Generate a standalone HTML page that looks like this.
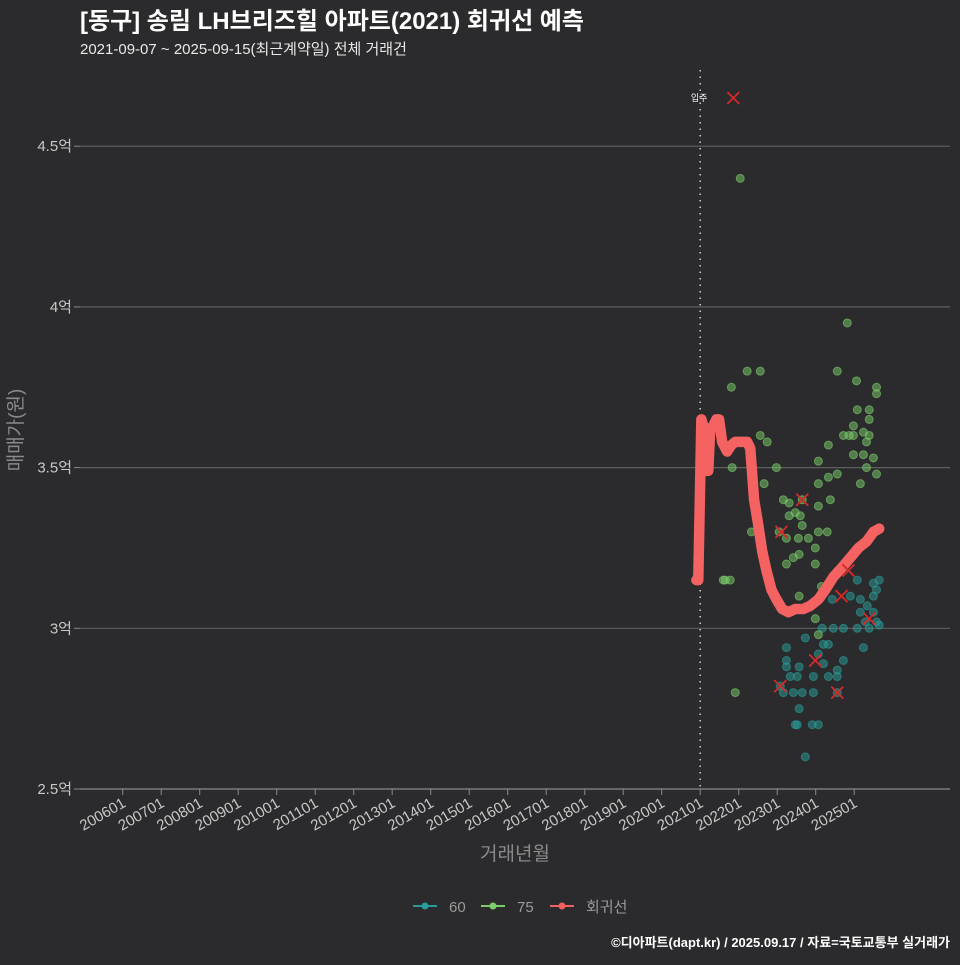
<!DOCTYPE html>
<html><head><meta charset="utf-8">
<style>
body{margin:0;background:#2b2b2d;}
svg text{font-family:"Liberation Sans","Noto Sans CJK KR",sans-serif;}
</style></head>
<body>
<svg id="chart" width="960" height="960" xmlns="http://www.w3.org/2000/svg">
<rect width="960" height="960" fill="#2b2b2d"/>
<text x="80" y="29" fill="#ffffff" font-size="24" font-weight="bold">[동구] 송림 LH브리즈힐 아파트(2021) 회귀선 예측</text>
<text x="80" y="54" fill="#e8e8e8" font-size="15">2021-09-07 ~ 2025-09-15(최근계약일) 전체 거래건</text>
<g id="grid"></g>
<g id="axes"></g>
<g id="marks"></g>
<text transform="translate(22,430) rotate(-90)" text-anchor="middle" fill="#8a8a8a" font-size="19">매매가(원)</text>
<text x="515" y="860" text-anchor="middle" fill="#8a8a8a" font-size="19">거래년월</text>
<g>
<g><line x1="413" y1="906" x2="437" y2="906" stroke="#2a9d9a" stroke-width="2"/><circle cx="425" cy="906" r="3.5" fill="#2a9d9a"/><text x="449" y="912" fill="#9a9a9a" font-size="15">60</text></g>
<g><line x1="481" y1="906" x2="505" y2="906" stroke="#7ccd6a" stroke-width="2"/><circle cx="493" cy="906" r="3.5" fill="#7ccd6a"/><text x="517" y="912" fill="#9a9a9a" font-size="15">75</text></g>
<g><line x1="550" y1="906" x2="574" y2="906" stroke="#f06060" stroke-width="2"/><circle cx="562" cy="906" r="3.5" fill="#f06060"/><text x="586" y="912" fill="#9a9a9a" font-size="15">회귀선</text></g>
</g>
<text x="950" y="947" text-anchor="end" fill="#ffffff" font-size="13" font-weight="bold">©디아파트(dapt.kr) / 2025.09.17 / 자료=국토교통부 실거래가</text>
</svg>
<script>
const yTicks=[2.5,3,3.5,4,4.5];
const yTickLabels=['2.5억','3억','3.5억','4억','4.5억'];
const xTickYears=[2006,2007,2008,2009,2010,2011,2012,2013,2014,2015,2016,2017,2018,2019,2020,2021,2022,2023,2024,2025];
const moveInYear=2021.0;
const g75Dates=[2022.04,2021.81,2021.78,2021.60,2021.91,2022.22,2022.56,2022.56,2022.74,2021.83,2022.98,2022.66,2023.16,2023.31,2023.65,2023.47,2023.31,2023.60,2024.07,2024.38,2022.33,2023.05,2023.24,2023.55,2023.81,2024.07,2024.30,2023.65,2023.99,2023.42,2023.57,2023.24,2023.99,2021.65,2023.57,2024.15,2023.99,2024.07,2024.33,2024.07,2024.33,2024.56,2024.07,2024.98,2025.08,2024.98,2024.72,2025.24,2025.39,2025.39,2025.32,2024.98,2025.24,2025.50,2025.32,2025.58,2025.16,2025.39,2024.82,2024.56,2025.06,2025.58,2025.58,2024.87];
const g75Prices=[4.40,3.75,3.15,3.15,2.80,3.80,3.80,3.60,3.58,3.50,3.50,3.45,3.40,3.39,3.40,3.36,3.35,3.35,3.38,3.40,3.30,3.30,3.28,3.28,3.28,3.30,3.30,3.32,3.25,3.22,3.23,3.20,3.20,3.15,3.10,3.13,3.03,2.98,3.57,3.52,3.47,3.48,3.45,3.60,3.68,3.63,3.60,3.61,3.68,3.65,3.58,3.54,3.54,3.53,3.50,3.48,3.45,3.60,3.95,3.80,3.77,3.75,3.73,3.60];
const g60Dates=[2025.08,2025.50,2025.65,2025.58,2025.50,2025.16,2024.90,2024.43,2025.34,2025.16,2025.50,2025.58,2025.29,2025.65,2024.17,2024.46,2024.72,2025.08,2025.39,2023.73,2024.20,2024.33,2025.24,2023.24,2024.07,2023.24,2023.57,2024.20,2024.72,2023.24,2023.34,2023.52,2023.94,2024.33,2024.56,2024.56,2023.16,2023.42,2023.65,2023.94,2024.56,2023.57,2023.52,2023.91,2024.07,2023.73,2023.08,2023.47];
const g60Prices=[3.15,3.14,3.15,3.12,3.10,3.09,3.10,3.09,3.07,3.05,3.05,3.02,3.02,3.01,3.00,3.00,3.00,3.00,3.00,2.97,2.95,2.95,2.94,2.94,2.92,2.90,2.88,2.89,2.90,2.88,2.85,2.85,2.85,2.85,2.87,2.85,2.80,2.80,2.80,2.80,2.80,2.75,2.70,2.70,2.70,2.60,2.82,2.70];
const outlierDates=[2021.86,2023.11,2023.65,2024.85,2024.67,2025.39,2023.99,2023.08,2024.56];
const outlierPrices=[4.65,3.30,3.40,3.18,3.10,3.03,2.90,2.82,2.80];
const regDates=[2020.90,2020.95,2021.03,2021.08,2021.16,2021.21,2021.26,2021.34,2021.42,2021.49,2021.57,2021.70,2021.81,2021.91,2022.07,2022.22,2022.30,2022.40,2022.51,2022.61,2022.72,2022.85,2022.98,2023.13,2023.29,2023.47,2023.68,2023.86,2024.07,2024.25,2024.46,2024.69,2024.90,2025.11,2025.32,2025.50,2025.65];
const regPrices=[3.15,3.15,3.65,3.63,3.49,3.49,3.62,3.63,3.65,3.65,3.58,3.55,3.57,3.58,3.58,3.58,3.56,3.40,3.32,3.24,3.18,3.12,3.09,3.06,3.05,3.06,3.06,3.07,3.09,3.12,3.16,3.19,3.22,3.25,3.27,3.30,3.31];

const NS='http://www.w3.org/2000/svg';
const X=t=>122.7+(t-2006)*38.5;
const Y=v=>789-(v-2.5)*321.4;
function mk(tag,attrs,parent){const e=document.createElementNS(NS,tag);for(const k in attrs)e.setAttribute(k,attrs[k]);parent.appendChild(e);return e;}
const grid=document.getElementById('grid'),axes=document.getElementById('axes'),marks=document.getElementById('marks');
yTicks.forEach((v,i)=>{
  if(i>0){const l=mk('line',{x1:80,x2:950,y1:Y(v),y2:Y(v),stroke:'#5f5f5f','stroke-width':1.2},grid);
  
  }
  mk('line',{x1:74,x2:80,y1:Y(v),y2:Y(v),stroke:'#8a8a8a'},axes);
  const t=mk('text',{x:72,y:Y(v)+5,'text-anchor':'end',fill:'#c8c8c8','font-size':15},axes);t.textContent=yTickLabels[i];
  
  
});
const ax=mk('line',{x1:80,x2:950,y1:789,y2:789,stroke:'#8a8a8a','stroke-width':1.2},axes);


xTickYears.forEach(yr=>{
  const x=X(yr);
  mk('line',{x1:x,x2:x,y1:789,y2:795,stroke:'#8a8a8a'},axes);
  const t=mk('text',{x:0,y:0,'text-anchor':'end',fill:'#c8c8c8','font-size':15,transform:`translate(${x+4},${806}) rotate(-30)`},axes);
  t.textContent=yr+'01';
  
  
});
const mv=mk('line',{x1:X(moveInYear),x2:X(moveInYear),y1:70,y2:789,stroke:'#d0d0d0','stroke-width':1.5,'stroke-dasharray':'1.5,5'},marks);


const mt=mk('text',{x:X(moveInYear)-1,y:101,'text-anchor':'middle',fill:'#fff','font-size':9},marks);mt.textContent='입주';


g60Dates.forEach((d,i)=>{const c=mk('circle',{cx:X(d),cy:Y(g60Prices[i]),r:4,fill:'#2a9d9a','fill-opacity':0.5,stroke:'#2a9d9a','stroke-opacity':0.6},marks);
  
  });
g75Dates.forEach((d,i)=>{const c=mk('circle',{cx:X(d),cy:Y(g75Prices[i]),r:4,fill:'#7ccd6a','fill-opacity':0.5,stroke:'#7ccd6a','stroke-opacity':0.6},marks);
  
  });
const p=mk('polyline',{points:regDates.map((d,i)=>X(d)+','+Y(regPrices[i])).join(' '),fill:'none',stroke:'#f46262','stroke-width':10.5,'stroke-linejoin':'round','stroke-linecap':'round'},marks);


outlierDates.forEach((d,i)=>{const x=X(d),y=Y(outlierPrices[i]);
  const g=mk('g',{stroke:'#d42a2a','stroke-width':1.8},marks);
  
  
  mk('line',{x1:x-6,y1:y-6,x2:x+6,y2:y+6},g);mk('line',{x1:x-6,y1:y+6,x2:x+6,y2:y-6},g);});
</script>
</body></html>
